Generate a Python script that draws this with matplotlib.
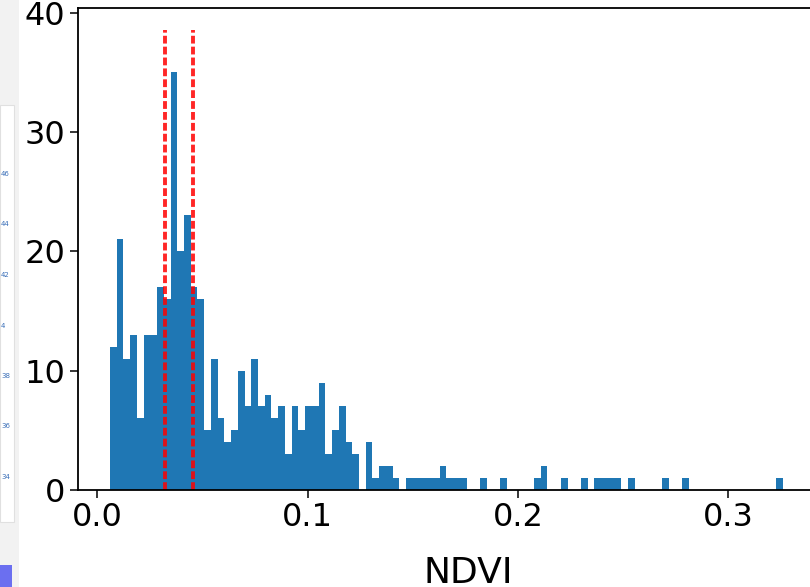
import numpy as np
import matplotlib
matplotlib.use("Agg")
from matplotlib import pyplot as plt
from matplotlib.patches import Rectangle

# NDVI histogram, 100 equal bins between the min and max values
ndvi_min = 0.0060
ndvi_max = 0.3260
n_bins = 100
counts = [12, 21, 11, 13, 6, 13, 13, 17, 16, 35,
          20, 23, 17, 16, 5, 11, 6, 4, 5, 10,
          7, 11, 7, 8, 6, 7, 3, 7, 5, 7,
          7, 9, 3, 5, 7, 4, 3, 0, 4, 1,
          2, 2, 1, 0, 1, 1, 1, 1, 1, 2,
          1, 1, 1, 0, 0, 1, 0, 0, 1, 0,
          0, 0, 0, 1, 2, 0, 0, 1, 0, 0,
          1, 0, 1, 1, 1, 1, 0, 1, 0, 0,
          0, 0, 1, 0, 0, 1, 0, 0, 0, 0,
          0, 0, 0, 0, 0, 0, 0, 0, 0, 1]
# the two red markers
marker_x = [0.0322, 0.0457]
marker_top = 38.5

# sidebar numbers from the UI next to the plot
side_labels = ["46", "44", "42", "4", "38", "36", "34"]

W, H = 810, 587
fig = plt.figure(figsize=(W / 100, H / 100), dpi=100)

# left UI panel (part of the screenshot)
fig.patches.append(Rectangle((0, 0), 19 / W, 1, transform=fig.transFigure,
                             facecolor="#f2f2f2", edgecolor="none"))
fig.patches.append(Rectangle((0, (H - 522) / H), 14 / W, (522 - 105) / H,
                             transform=fig.transFigure, facecolor="white",
                             edgecolor="#e0e0e0", lw=0.8))
fig.patches.append(Rectangle((0, 0), 12 / W, 22 / H, transform=fig.transFigure,
                             facecolor="#6b6ff0", edgecolor="none"))
for i, s in enumerate(side_labels):
    fig.text(1 / W, 1 - (174 + 50.5 * i) / H, s, fontsize=5,
             color="#3a6fb8", va="center", ha="left")

# the plot runs on past the right edge of the screenshot
ax = fig.add_axes([78 / W, (H - 490) / H, (858 - 78) / W, (490 - 7.5) / H])

edges = np.linspace(ndvi_min, ndvi_max, n_bins + 1)
centers = (edges[:-1] + edges[1:]) / 2
ax.hist(centers, bins=edges, weights=counts, color="#1f77b4")
ax.vlines(marker_x, 0, marker_top, colors="r", linestyles=(0, (2.0, 0.8)),
          linewidth=2.8, alpha=0.85)

ax.set_xlim(-0.0092, 0.3617)
ax.set_xticks([0.0, 0.1, 0.2, 0.3])
ax.set_yticks([0, 10, 20, 30, 40])
ax.tick_params(labelsize=23, length=5.5, width=1.1)
for sp in ax.spines.values():
    sp.set_linewidth(1.3)
ax.set_xlabel("NDVI", fontsize=26, labelpad=16)

fig.savefig("out.png", dpi=100)
